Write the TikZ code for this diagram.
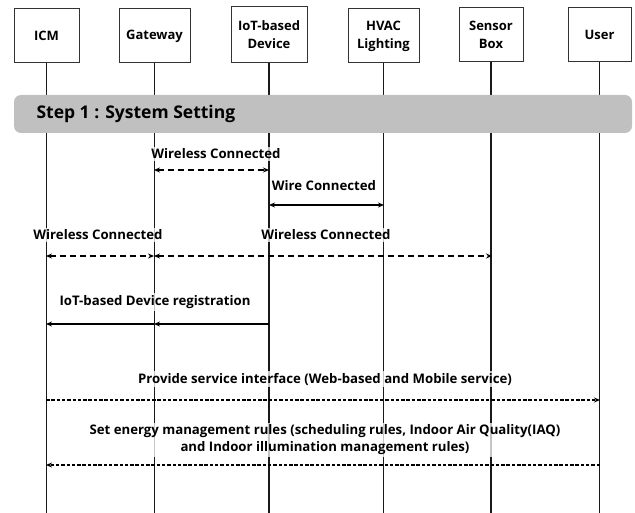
\documentclass[tikz,border=0pt]{standalone}
\usepackage{fontspec}
\setmainfont{Open Sans}
\usetikzlibrary{arrows.meta}
\definecolor{bandgray}{HTML}{C0C0C0}
\begin{document}
\begin{tikzpicture}[x=1pt,y=-1pt,
  actor/.style={draw=black!80, line width=1pt, minimum height=54pt, align=center, inner sep=1pt,
    font=\bfseries\fontsize{13}{18}\selectfont, fill=white},
  life/.style={line width=1.9pt, black!90},
  oneway/.style={line width=1.7pt, -{Stealth[length=6pt,width=5pt]}},
  twoway/.style={line width=1.7pt, {Stealth[length=6pt,width=5pt]}-{Stealth[length=6pt,width=5pt]}},
  bigdash/.style={dash pattern=on 6pt off 4pt},
  finedash/.style={line width=1.4pt, dash pattern=on 3.5pt off 1.8pt},
  lbl/.style={fill=white, fill opacity=0.75, text opacity=1, inner sep=2pt, align=center,
    font=\bfseries\fontsize{13.2}{17}\selectfont}]
\useasboundingbox (0,0) rectangle (635,513);
% actors
\node[actor, minimum width=65pt] (icm) at (46.5,36) {ICM};
\node[actor, minimum width=71pt] (gw) at (154.5,36) {Gateway};
\node[actor, minimum width=76pt, minimum height=56pt] (iot) at (269,35) {IoT-based\\Device};
\node[actor, minimum width=71pt] (hvac) at (383.5,36) {HVAC\\Lighting};
\node[actor, minimum width=64pt] (sens) at (491,35) {Sensor\\Box};
\node[actor, minimum width=63pt] (user) at (599.5,35) {User};
% lifeline ends
\coordinate (icmE) at (46,513);
\coordinate (gwE) at (154,513);
\coordinate (iotE) at (269,513);
\coordinate (hvacE) at (384,513);
\coordinate (sensE) at (492,513);
\coordinate (userE) at (600,513);
\draw[life] (icm.south) -- (icm.south |- icmE);
\draw[life] (gw.south) -- (gw.south |- gwE);
\draw[life] (iot.south) -- (iot.south |- iotE);
\draw[life] (hvac.south) -- (hvac.south |- hvacE);
\draw[life] (sens.south) -- (sens.south |- sensE);
\draw[life] (user.south) -- (user.south |- userE);
% step band
\draw[fill=bandgray, draw=none, rounded corners=7pt] (14,95) rectangle (632,133);
\node[anchor=west, font=\bfseries\fontsize{17.5}{20}\selectfont] (step) at (33,114) {Step 1 : System Setting};
% message points
\coordinate (gw1) at (154,170);  \coordinate (iot1) at (269,170);
\coordinate (iot2) at (269,205); \coordinate (hvac2) at (384,205);
\coordinate (icm3) at (46,256);  \coordinate (gw3) at (154,256); \coordinate (sens3) at (492,256);
\coordinate (icm4) at (46,324);  \coordinate (gw4) at (154,324); \coordinate (iot4) at (269,324);
\coordinate (icm5) at (46,400);  \coordinate (user5) at (600,400);
\coordinate (icm6) at (46,465);  \coordinate (user6) at (600,465);
% labels
\node[lbl] (l1) at (216,154) {Wireless Connected};
\node[lbl] (l2) at (324,186) {Wire Connected};
\node[lbl] (l3) at (98,235) {Wireless Connected};
\node[lbl] (l4) at (326,235) {Wireless Connected};
\node[lbl] (l5) at (155,302) {IoT-based Device registration};
\node[lbl] (l6) at (325,379) {Provide service interface (Web-based and Mobile service)};
\node[lbl] (l7) at (325,440) {Set energy management rules (scheduling rules, Indoor Air Quality(IAQ)\\and Indoor illumination management rules)};
% arrows
\draw[twoway, bigdash] (gw1) -- (iot1);
\draw[twoway] (iot2) -- (hvac2);
\draw[twoway, bigdash] (icm3) -- (gw3);
\draw[twoway, bigdash] (gw3) -- (sens3);
\draw[oneway] (iot4) -- (gw4);
\draw[oneway] (gw4) -- (icm4);
\draw[oneway, finedash] (icm5) -- (user5);
\draw[oneway, finedash] (user6) -- (icm6);
\end{tikzpicture}
\end{document}
